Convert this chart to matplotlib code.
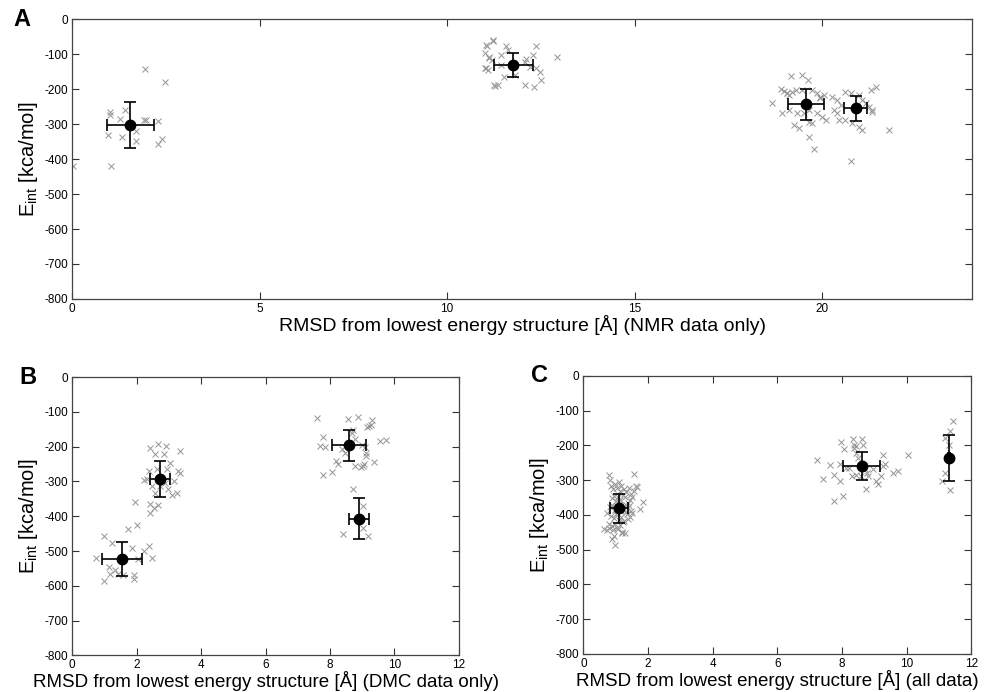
import matplotlib
matplotlib.use("Agg")
import matplotlib.pyplot as plt

plt.rcParams['font.family'] = ['Liberation Sans', 'DejaVu Sans']
plt.rcParams['axes.unicode_minus'] = False

# ---- panel A: NMR data only ----
a_x = [1.95, 2.48, 1.02, 1.00, 1.40, 1.27, 1.92, 1.98, 2.28, 0.96, 1.34, 1.71,
       1.70, 2.28, 2.41, 1.05, 0.02,
       11.07, 11.23, 11.13, 11.19, 11.03, 11.10, 11.25, 11.36, 11.22, 11.04, 11.58,
       12.36, 11.00, 11.11, 11.44, 12.11, 12.29, 11.00, 12.47, 12.51, 12.94, 11.27,
       12.07, 12.31, 11.53, 11.80, 12.38, 12.20, 11.62, 11.44, 12.07,
       18.66, 19.18, 19.45, 19.63, 18.90, 18.98, 19.05, 19.12, 19.20, 19.30, 19.47,
       19.73, 19.85, 19.95, 20.05, 19.11, 19.33, 19.64, 19.87, 20.00, 20.09, 19.24,
       19.39, 19.64, 19.73, 19.64, 19.78, 20.76, 21.78, 20.27, 20.40, 20.49, 20.31,
       20.40, 20.62, 20.76, 20.98, 21.07, 21.16, 21.25, 21.34, 21.43, 21.29, 20.62,
       20.80, 20.98, 21.07, 20.44, 21.34, 18.93, 19.51, 19.06, 19.95]
a_y = [-141, -180, -265, -274, -258, -284, -288, -289, -292, -330, -336, -320,
       -347, -358, -342, -420, -420,
       -76, -60, -107, -116, -138, -145, -189, -189, -61, -73, -75,
       -76, -97, -111, -103, -114, -103, -140, -150, -173, -107, -192,
       -188, -194, -166, -159, -140, -135, -87, -130, -123,
       -240, -162, -159, -173, -200, -205, -210, -215, -207, -202, -202,
       -202, -210, -221, -215, -259, -269, -259, -269, -278, -288, -302,
       -312, -293, -297, -338, -372, -405, -317, -221, -231, -245, -259,
       -269, -207, -212, -216, -231, -240, -250, -259, -193, -202, -288,
       -297, -307, -317, -288, -264, -269, -269, -212, -226]
a_mx = [1.55, 11.76, 19.57, 20.89]
a_my = [-302, -131, -243, -255]
a_ex = [0.63, 0.52, 0.48, 0.31]
a_ey = [65, 35, 45, 35]

# ---- panel B: DMC data only ----
b_x = [1.00, 0.74, 0.98, 1.24, 1.14, 1.19, 1.34, 1.44, 1.75, 1.86, 1.91, 1.91,
       2.06, 2.24, 2.40, 2.48, 2.01, 1.96, 1.58,
       2.43, 2.68, 2.91, 3.35, 2.58, 2.86, 2.39, 2.63, 3.04, 3.30, 2.32, 2.48,
       2.58, 2.74, 2.89, 2.99, 3.10, 3.15, 3.25, 3.35, 2.24, 2.43, 2.53, 2.68,
       2.43, 2.94,
       7.61, 7.77, 7.69, 7.84, 7.77, 8.05, 8.20, 8.26, 8.36, 8.46, 8.57, 8.86,
       8.67, 8.72, 8.77, 8.98, 9.08, 9.11, 9.01, 8.96, 8.77, 9.05, 9.27, 9.29,
       9.16, 9.21, 9.36, 9.55, 9.73, 9.13, 8.72,
       8.41, 9.03, 9.03, 9.19]
b_y = [-456, -521, -585, -478, -547, -566, -554, -566, -437, -490, -568, -580,
       -523, -499, -485, -521, -426, -359, -568,
       -203, -191, -197, -213, -220, -220, -270, -265, -246, -270, -294, -313,
       -332, -313, -303, -323, -340, -299, -334, -275, -296, -366, -375, -368,
       -391, -265,
       -117, -173, -197, -201, -282, -272, -242, -251, -208, -218, -120, -115,
       -160, -151, -179, -194, -201, -227, -256, -258, -256, -249, -137, -124,
       -143, -141, -244, -184, -181, -218, -323,
       -452, -371, -435, -456]
b_mx = [1.55, 2.73, 8.60, 8.89]
b_my = [-523, -292, -196, -407]
b_ex = [0.62, 0.30, 0.53, 0.31]
b_ey = [49, 52, 44, 58]

# ---- panel C: all data ----
c_x = [0.81, 1.58, 1.62, 1.85, 1.74, 1.29, 0.97, 0.90, 0.64, 0.74, 0.79, 1.03,
       0.85, 0.92, 0.98, 1.05, 1.12, 1.18, 1.25, 1.32, 1.40, 1.47, 0.88, 0.95,
       1.02, 1.08, 1.15, 1.22, 1.30, 1.37, 1.45, 1.52, 0.83, 0.90, 0.97, 1.04,
       1.10, 1.17, 1.24, 1.33, 1.41, 0.86, 0.94, 1.01, 1.09, 1.16, 1.23, 1.35,
       1.48, 0.78, 0.89, 0.99, 1.13, 1.27, 1.38, 0.92, 1.06, 1.20, 1.44, 1.56,
       0.72, 0.84, 1.11, 1.31, 1.50, 1.65, 0.95, 1.19,
       7.22, 7.43, 7.62, 7.77, 7.77, 8.03, 7.95, 7.97, 8.07, 7.95, 8.13, 8.23,
       8.34, 8.38, 8.36, 8.44, 8.45, 8.51, 8.65, 8.61, 8.67, 8.72, 8.77, 8.82,
       8.59, 8.75, 8.97, 9.07, 9.13, 9.20, 9.26, 9.33, 9.28, 9.59, 9.75, 10.05,
       8.45, 8.30,
       11.45, 11.35, 11.20, 11.30, 11.20, 11.10, 11.35]
c_y = [-286, -282, -317, -362, -384, -451, -487, -470, -441, -443, -439, -439,
       -318, -325, -312, -322, -330, -318, -327, -335, -322, -340, -352, -345,
       -360, -348, -356, -342, -350, -365, -358, -348, -378, -372, -385, -395,
       -370, -388, -380, -392, -375, -402, -410, -398, -415, -405, -420, -398,
       -388, -425, -432, -425, -430, -418, -412, -445, -440, -448, -405, -330,
       -395, -300, -305, -372, -395, -320, -460, -452,
       -241, -298, -258, -285, -360, -346, -303, -191, -210, -255, -264, -264,
       -183, -198, -207, -202, -221, -236, -198, -183, -260, -269, -279, -288,
       -288, -327, -269, -303, -312, -288, -227, -255, -260, -279, -274, -227,
       -284, -288,
       -131, -160, -179, -198, -281, -303, -329]
c_mx = [1.10, 8.61, 11.31]
c_my = [-381, -260, -236]
c_ex = [0.28, 0.58, 0.03]
c_ey = [42, 40, 67]

fig = plt.figure(figsize=(9.87, 6.92), dpi=100)
axA = fig.add_axes([0.073, 0.568, 0.912, 0.404])
axB = fig.add_axes([0.073, 0.053, 0.392, 0.402])
axC = fig.add_axes([0.591, 0.055, 0.393, 0.402])

panels = [
    (axA, a_x, a_y, a_mx, a_my, a_ex, a_ey, 24, [0, 5, 10, 15, 20], 'A',
     'RMSD from lowest energy structure [Å] (NMR data only)', 14),
    (axB, b_x, b_y, b_mx, b_my, b_ex, b_ey, 12, [0, 2, 4, 6, 8, 10, 12], 'B',
     'RMSD from lowest energy structure [Å] (DMC data only)', 13.5),
    (axC, c_x, c_y, c_mx, c_my, c_ex, c_ey, 12, [0, 2, 4, 6, 8, 10, 12], 'C',
     'RMSD from lowest energy structure [Å] (all data)', 13.5),
]

for ax, sx, sy, mx, my, ex, ey, xmax, xt, letter, xlabel, xfs in panels:
    ax.plot(sx, sy, 'x', color='#949494', markersize=4, markeredgewidth=0.7)
    ax.errorbar(mx, my, xerr=ex, yerr=ey, fmt='o', color='black',
                markersize=7.5, elinewidth=1.2, capsize=4, capthick=1.2)
    ax.set_xlim(0, xmax)
    ax.set_ylim(-800, 0)
    ax.set_xticks(xt)
    ax.set_yticks(range(-800, 1, 100))
    ax.tick_params(direction='in', top=True, right=True, length=5,
                   labelsize=8.5, pad=3, color='#333333')
    for sp in ax.spines.values():
        sp.set_color('#444444')
        sp.set_linewidth(0.9)
    ax.set_xlabel(xlabel, fontsize=xfs, labelpad=0)
    ax.set_ylabel('E$_{\\mathregular{int}}$ [kca/mol]', fontsize=14.5, labelpad=3)
    ax.text(-0.065 if ax is axA else -0.135, 1.0, letter,
            transform=ax.transAxes, fontsize=17, fontweight='bold',
            ha='left', va='center')

fig.savefig('out.png', dpi=100)
